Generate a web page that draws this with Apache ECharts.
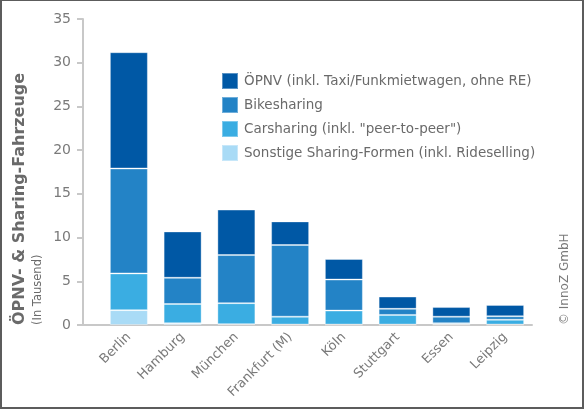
<!DOCTYPE html>
<html lang="de">
<head>
    <meta charset="UTF-8">
    <title>ÖPNV- & Sharing-Fahrzeuge</title>
    <script src="https://cdn.jsdelivr.net/npm/echarts@6/dist/echarts.min.js"></script>
    <style>
        html, body { margin: 0; padding: 0; background: #fff; }
        #frame { position: absolute; left: 0; top: 0; width: 584px; height: 409px; box-sizing: border-box;
                 border: 2px solid #5c5c5c; border-top-width: 1px; }
        #main { position: absolute; left: 0; top: 0; width: 585px; height: 410px; }
    </style>
</head>
<body>
<div id="main"></div>
<div id="frame"></div>
<script type="text/javascript">
    var cities = ['Berlin', 'Hamburg', 'München', 'Frankfurt (M)', 'Köln', 'Stuttgart', 'Essen', 'Leipzig'];
    // Werte in Tausend, von unten nach oben gestapelt
    var sonstige   = [1.7, 0.2, 0.1, 0.05, 0.05, 0.05, 0.05, 0.05];
    var carsharing = [4.2, 2.2, 2.4, 0.9, 1.6, 1.1, 0.15, 0.55];
    var bikesharing = [12.0, 3.0, 5.5, 8.2, 3.55, 0.7, 0.75, 0.4];
    var oepnv      = [13.3, 5.3, 5.2, 2.7, 2.35, 1.4, 1.1, 1.3];
    var yTicks = [0, 5, 10, 15, 20, 25, 30, 35];

    var names = [
        'ÖPNV (inkl. Taxi/Funkmietwagen, ohne RE)',
        'Bikesharing',
        'Carsharing (inkl. "peer-to-peer")',
        'Sonstige Sharing-Formen (inkl. Rideselling)'
    ];
    var colors = ['#0058a5', '#2383c6', '#3aade2', '#a9dbf6'];
    var textColor = '#7a7a7a';
    var font = '"DejaVu Sans", sans-serif';

    var chart = echarts.init(document.getElementById('main'));

    function barSeries(idx, data) {
        return {
            name: names[idx],
            type: 'bar',
            stack: 'total',
            xAxisIndex: 1,
            yAxisIndex: 1,
            barWidth: 38,
            itemStyle: {
                color: colors[idx],
                borderColor: 'rgba(255,255,255,0.35)',
                borderWidth: 1
            },
            data: data
        };
    }

    chart.setOption({
        animation: false,
        textStyle: { fontFamily: font },
        legend: {
            orient: 'vertical',
            left: 216,
            top: 67,
            itemWidth: 16,
            itemHeight: 16,
            itemGap: 6,
            icon: 'rect',
            data: names,
            textStyle: { color: '#6a6a6a', fontSize: 13.5, fontFamily: font, padding: [0, 0, 0, 1] }
        },
        grid: [
            // Achsenrahmen
            { left: 83, right: 53, top: 19, bottom: 85 },
            // Balkenbereich
            { left: 102, right: 53, top: 19, bottom: 85 }
        ],
        xAxis: [
            {
                type: 'value',
                gridIndex: 0,
                min: 0, max: 1,
                axisLine: { show: true, lineStyle: { color: '#c8c8c8', width: 2 } },
                axisTick: { show: false },
                axisLabel: { show: false },
                splitLine: { show: false }
            },
            {
                type: 'category',
                gridIndex: 1,
                data: cities,
                axisLine: { show: false },
                axisTick: { show: false },
                axisLabel: {
                    rotate: 45,
                    margin: 10,
                    color: textColor,
                    fontSize: 13,
                    fontFamily: font
                }
            }
        ],
        yAxis: [
            {
                type: 'value',
                gridIndex: 0,
                min: 0, max: 35, interval: 5,
                axisLine: { show: true, lineStyle: { color: '#c8c8c8', width: 2 } },
                axisTick: { show: true, length: 6, lineStyle: { color: '#c8c8c8', width: 2 } },
                axisLabel: {
                    color: textColor, fontSize: 14, margin: 12, fontFamily: font,
                    formatter: function (v) { return yTicks.indexOf(v) >= 0 ? String(v) : ''; }
                },
                splitLine: { show: false }
            },
            {
                type: 'value',
                gridIndex: 1,
                min: 0, max: 35,
                show: false
            }
        ],
        graphic: [
            {
                type: 'text', left: 12, bottom: 85, rotation: Math.PI / 2,
                style: { text: 'ÖPNV- & Sharing-Fahrzeuge', fill: '#6a6a6a',
                         font: 'bold 16px "DejaVu Sans", sans-serif' }
            },
            {
                type: 'text', left: 32, bottom: 85, rotation: Math.PI / 2,
                style: { text: '(In Tausend)', fill: '#6a6a6a',
                         font: '11.5px "DejaVu Sans", sans-serif' }
            },
            {
                type: 'text', left: 559, bottom: 85, rotation: Math.PI / 2,
                style: { text: '© InnoZ GmbH', fill: '#7a7a7a',
                         font: '12px "DejaVu Sans", sans-serif' }
            }
        ],
        series: [
            barSeries(3, sonstige),
            barSeries(2, carsharing),
            barSeries(1, bikesharing),
            barSeries(0, oepnv)
        ]
    });
</script>
</body>
</html>
